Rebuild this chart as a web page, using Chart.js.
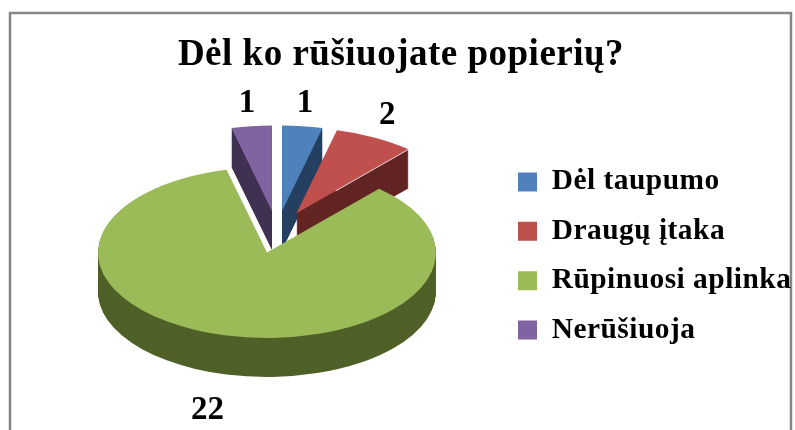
<!DOCTYPE html>
<html><head><meta charset="utf-8">
<style>html,body{margin:0;padding:0;background:#fff}#w{width:795px;height:430px}canvas{display:block}</style>
<script src="https://cdn.jsdelivr.net/npm/chart.js@4"></script></head>
<body><div id="w"><canvas id="c" width="795" height="430"></canvas></div>
<script>
const categories = ['Dėl taupumo', 'Draugų įtaka', 'Rūpinuosi aplinka', 'Nerūšiuoja'];
const values = [1, 2, 22, 1];
const topColors = ['#4F81BD', '#C0504D', '#9BBB59', '#8064A2'];
const sideColors = ['#254061', '#632523', '#4F6128', '#403152'];
const chartTitle = 'Dėl ko rūšiuojate popierių?';

const SERIF = '"Liberation Serif", "Times New Roman", serif';
const TILT = 0.505, DEPTH = 39, CX = 277, CY = 232, EXPLODE = 42;
const paintOrder = [0, 3, 1, 2];
const labelReach = [1.32, 1.27, 1.42, 1.32];
const labelNudgeX = [-4, -9, -2, 2];
const labelNudgeY = [2, -4, 3, 2];

const project = (ctx, arc, d) => {
  const mid = (arc.startAngle + arc.endAngle) / 2;
  ctx.translate(CX, CY + d);
  ctx.scale(1, TILT);
  ctx.translate(Math.cos(mid) * EXPLODE - arc.x, Math.sin(mid) * EXPLODE - arc.y);
};

const pie3d = {
  id: 'pie3d',
  beforeLayout(chart) { chart.ctx.letterSpacing = '0.5px'; },
  beforeDraw(chart) {
    const ctx = chart.ctx;
    ctx.letterSpacing = '0.5px';
    ctx.save();
    ctx.strokeStyle = '#868686';
    ctx.lineWidth = 2.5;
    ctx.strokeRect(10, 13, 781, 450);
    ctx.restore();
  },
  afterLayout(chart) {
    const l = chart.legend;
    const shift = 518 - (l.left + l.options.labels.padding);
    l.left += shift; l.right += shift;
    l.top += 41; l.bottom += 41;
  },
  beforeDatasetDraw(chart, args) {
    const ctx = chart.ctx;
    const arcs = args.meta.data;
    paintOrder.forEach(i => {
      const arc = arcs[i];
      const saved = arc.options;
      arc.options = Object.assign({}, saved, { backgroundColor: sideColors[i] });
      for (let d = DEPTH; d >= 1; d--) {
        ctx.save(); project(ctx, arc, d); arc.draw(ctx); ctx.restore();
      }
      arc.options = saved;
      ctx.save(); project(ctx, arc, 0); arc.draw(ctx); ctx.restore();
      if (i === 1) {
        const mid = (arc.startAngle + arc.endAngle) / 2;
        const ax = CX + Math.cos(mid) * EXPLODE, ay = CY + Math.sin(mid) * EXPLODE * TILT;
        ctx.save();
        ctx.strokeStyle = 'rgba(255,255,255,0.8)';
        ctx.lineWidth = 1;
        ctx.beginPath();
        ctx.moveTo(ax + Math.cos(arc.endAngle) * arc.outerRadius * 0.35, ay + Math.sin(arc.endAngle) * arc.outerRadius * 0.35 * TILT);
        ctx.lineTo(ax + Math.cos(arc.endAngle) * arc.outerRadius, ay + Math.sin(arc.endAngle) * arc.outerRadius * TILT);
        ctx.stroke();
        ctx.restore();
      }
    });
    return false;
  },
  afterDatasetsDraw(chart) {
    const ctx = chart.ctx;
    const arcs = chart.getDatasetMeta(0).data;
    ctx.save();
    ctx.letterSpacing = '0px';
    ctx.font = 'bold 33px ' + SERIF;
    ctx.fillStyle = '#000';
    ctx.textAlign = 'center';
    ctx.textBaseline = 'middle';
    arcs.forEach((arc, i) => {
      const mid = (arc.startAngle + arc.endAngle) / 2;
      const r = EXPLODE + arc.outerRadius * labelReach[i];
      const front = Math.sin(mid) > 0 ? DEPTH : 0;
      const x = CX + Math.cos(mid) * r + labelNudgeX[i];
      const y = CY + front + Math.sin(mid) * r * 0.497 + labelNudgeY[i];
      ctx.fillText(String(values[i]), x, y);
    });
    ctx.restore();
  }
};

new Chart(document.getElementById('c'), {
  type: 'pie',
  data: {
    labels: categories,
    datasets: [{
      data: values,
      backgroundColor: topColors,
      borderWidth: 0,
      radius: 169
    }]
  },
  options: {
    responsive: false,
    animation: false,
    layout: { padding: { left: 7 } },
    plugins: {
      title: {
        display: true,
        text: chartTitle,
        color: '#000',
        font: { family: SERIF, size: 37, weight: 'bold' },
        padding: { top: 33, bottom: 5 }
      },
      legend: {
        position: 'right',
        labels: {
          color: '#000',
          font: { family: SERIF, size: 29.4, weight: 'bold' },
          boxWidth: 19,
          boxHeight: 19,
          padding: 20
        }
      },
      tooltip: { enabled: false }
    }
  },
  plugins: [pie3d]
});
</script></body></html>
